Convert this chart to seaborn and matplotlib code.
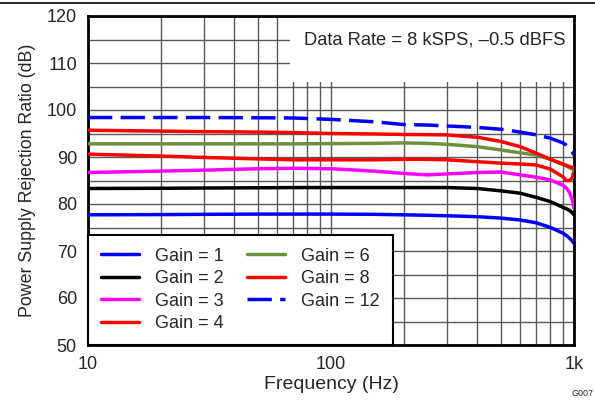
import numpy as np
import pandas as pd
import matplotlib
matplotlib.use('Agg')
import matplotlib.pyplot as plt
import matplotlib.ticker as mtick
from matplotlib.lines import Line2D
from matplotlib.patches import Rectangle
import seaborn as sns

########################################################################################################
#Data
freq = [10, 20, 30, 50, 70, 100, 150, 200, 250, 300, 400, 500, 600, 700, 800, 900, 930, 960, 985, 1000]

gain_1 = [77.7, 77.75, 77.8, 77.85, 77.85, 77.85, 77.8, 77.7, 77.6, 77.5, 77.3, 77.0, 76.6, 76.0, 75.0, 73.8, 73.3, 72.7, 72.1, 71.6]
gain_2 = [83.3, 83.35, 83.4, 83.45, 83.5, 83.5, 83.5, 83.5, 83.5, 83.5, 83.3, 82.8, 82.3, 81.4, 80.5, 79.3, 79.0, 78.6, 78.1, 77.7]
gain_3 = [86.7, 87.0, 87.2, 87.5, 87.6, 87.5, 87.0, 86.5, 86.2, 86.4, 86.7, 86.8, 86.2, 85.7, 85.1, 84.0, 83.4, 82.4, 80.8, 79.1]
gain_4 = [90.6, 90.2, 89.9, 89.6, 89.4, 89.4, 89.4, 89.5, 89.5, 89.4, 89.0, 88.7, 88.5, 88.3, 87.4, 85.8, 85.0, 85.0, 85.6, 87.3]
gain_6 = [92.8, 92.8, 92.8, 92.8, 92.8, 92.85, 92.9, 93.0, 92.9, 92.7, 92.2, 91.5, 90.9, 90.4, 89.5, 88.4, 88.1, 87.7, 87.4, 87.1]
gain_8 = [95.7, 95.5, 95.4, 95.3, 95.2, 95.0, 94.9, 94.8, 94.75, 94.7, 94.2, 93.3, 92.2, 90.8, 89.5, 88.5, 88.2, 87.95, 87.75, 87.6]
gain_12 = [98.4, 98.4, 98.4, 98.35, 98.3, 98.0, 97.5, 96.9, 96.8, 96.6, 96.3, 95.9, 95.3, 94.7, 94.0, 93.0, 92.5, 91.8, 91.0, 90.4]

labels = ['Gain = 1', 'Gain = 2', 'Gain = 3', 'Gain = 4', 'Gain = 6', 'Gain = 8', 'Gain = 12']
series = [gain_1, gain_2, gain_3, gain_4, gain_6, gain_8, gain_12]
colors = ['#0000ff', '#000000', '#ff00ff', '#ff0000', '#6f8f3c', '#ff0000', '#0000ff']

df = pd.DataFrame({'freq': freq * len(labels),
                   'psrr': sum(series, []),
                   'gain': sum([[l] * len(freq) for l in labels], [])})

########################################################################################################
#plotting
sns.set_style('white')
plt.rcParams['font.family'] = ['Liberation Sans', 'DejaVu Sans']

fig = plt.figure(figsize=(5.95, 4.01), dpi=100)
ax = fig.add_axes([88/595, 56/401, 486/595, 329/401])

for lab, col in zip(labels, colors):
    sub = df[df['gain'] == lab]
    ls = (0, (7.0, 2.4)) if lab == 'Gain = 12' else '-'
    sns.lineplot(data=sub, x='freq', y='psrr', ax=ax, color=col, lw=2.5,
                 linestyle=ls, label=lab, zorder=3)

ax.set_xscale('log')
ax.set_xlim(10, 1000)
ax.set_ylim(50, 120)
ax.yaxis.set_major_locator(mtick.MultipleLocator(10))
ax.yaxis.set_minor_locator(mtick.MultipleLocator(5))
ax.xaxis.set_major_locator(mtick.FixedLocator([10, 100, 1000]))
ax.xaxis.set_major_formatter(mtick.FixedFormatter(['10', '100', '1k']))
ax.xaxis.set_minor_locator(mtick.LogLocator(base=10, subs=np.arange(2, 10)))
ax.xaxis.set_minor_formatter(mtick.NullFormatter())
ax.grid(True, which='both', color='#5a5a5a', lw=1.0)
ax.set_axisbelow(True)
ax.tick_params(which='both', length=0, labelsize=13)
ax.tick_params(axis='x', pad=8)
ax.tick_params(axis='y', pad=8)
for s in ax.spines.values():
    s.set_linewidth(2)
    s.set_color('black')

ax.set_xlabel('Frequency (Hz)', fontsize=14, labelpad=2)
ax.set_ylabel('Power Supply Rejection Ratio (dB)', fontsize=12.8, labelpad=8)

# white box behind the condition text
ax.add_patch(Rectangle((0.416, 0.80), 0.584, 0.20, transform=ax.transAxes,
                       facecolor='white', edgecolor='none', zorder=2))
ax.text(0.983, 0.927, 'Data Rate = 8 kSPS, \u20130.5 dBFS', transform=ax.transAxes,
        ha='right', va='center', fontsize=13.2, zorder=4)

leg = ax.legend(loc='lower left', bbox_to_anchor=(0, 0), borderaxespad=0, ncol=2,
                fontsize=13, frameon=True, fancybox=False, framealpha=1,
                edgecolor='black', handlelength=2.1, handletextpad=0.9,
                columnspacing=1.3, labelspacing=0.3, borderpad=0.72)
leg.get_frame().set_linewidth(1.5)
leg.set_zorder(5)

fig.add_artist(Line2D([0, 1], [1 - 3/401, 1 - 3/401], color='black', lw=1.2))
fig.text(572/595, 8/401, 'G007', fontsize=6.5, ha='left', va='center')

plt.savefig('out.png', dpi=100)
